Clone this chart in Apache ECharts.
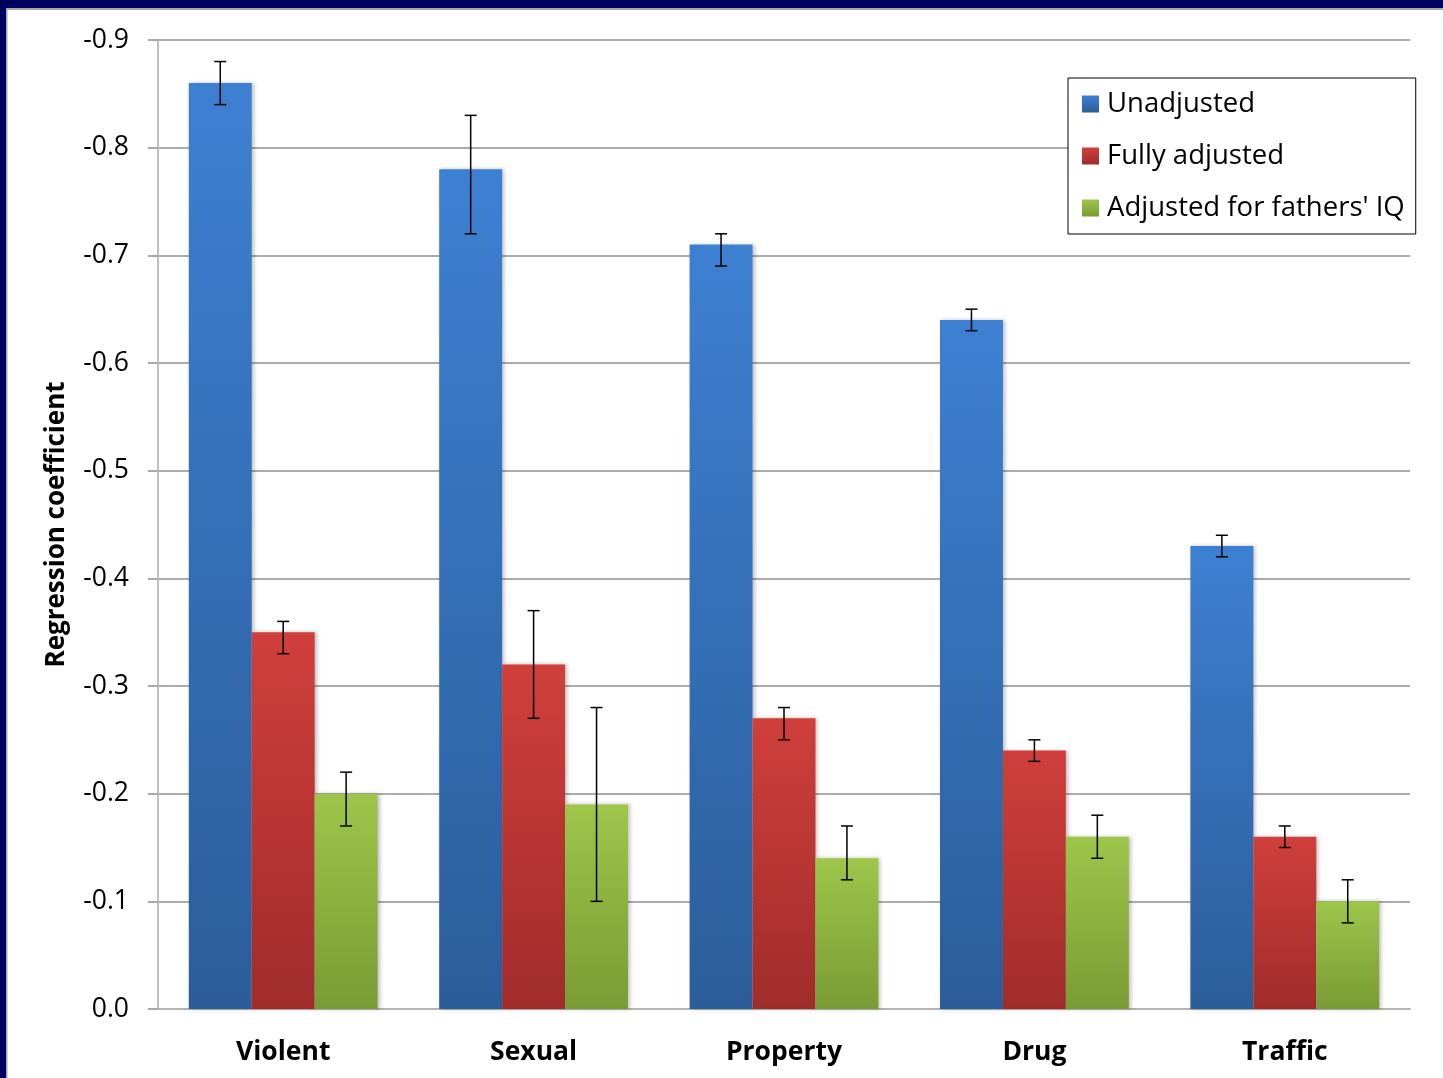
<!DOCTYPE html>
<html>
<head>
<meta charset="utf-8">
<script src="https://cdn.jsdelivr.net/npm/echarts@6/dist/echarts.min.js"></script>
<style>
html,body{margin:0;padding:0;background:#fff;}
#chart{width:1443px;height:1078px;}
</style>
</head>
<body>
<div id="chart"></div>
<script>
const categories = ['Violent', 'Sexual', 'Property', 'Drug', 'Traffic'];
const seriesNames = ['Unadjusted', 'Fully adjusted', "Adjusted for fathers' IQ"];
const unadjusted = [-0.86, -0.78, -0.71, -0.64, -0.43];
const unadjustedLow = [-0.84, -0.72, -0.69, -0.63, -0.42];
const unadjustedHigh = [-0.88, -0.83, -0.72, -0.65, -0.44];
const fullyAdjusted = [-0.35, -0.32, -0.27, -0.24, -0.16];
const fullyAdjustedLow = [-0.33, -0.27, -0.25, -0.23, -0.15];
const fullyAdjustedHigh = [-0.36, -0.37, -0.28, -0.25, -0.17];
const fathersIQ = [-0.20, -0.19, -0.14, -0.16, -0.10];
const fathersIQLow = [-0.17, -0.10, -0.12, -0.14, -0.08];
const fathersIQHigh = [-0.22, -0.28, -0.17, -0.18, -0.12];
const yTicks = [-0.9, -0.8, -0.7, -0.6, -0.5, -0.4, -0.3, -0.2, -0.1, 0.0];

const values = [unadjusted, fullyAdjusted, fathersIQ];
const lows = [unadjustedLow, fullyAdjustedLow, fathersIQLow];
const highs = [unadjustedHigh, fullyAdjustedHigh, fathersIQHigh];
const gradients = [
  ['#3D80D2', '#2C5D9A'],
  ['#D03F3B', '#A02C2A'],
  ['#9DC64A', '#799B34']
];
const CATGAP = 0.246;

const chart = echarts.init(document.getElementById('chart'));
const FONT = '"Open Sans", Lato, sans-serif';

const barSeries = values.map((vals, i) => ({
  name: seriesNames[i],
  type: 'bar',
  data: vals,
  barGap: '0%',
  barCategoryGap: (CATGAP * 100) + '%',
  itemStyle: {
    color: new echarts.graphic.LinearGradient(0, 0, 0, 1, [
      { offset: 0, color: gradients[i][0] },
      { offset: 1, color: gradients[i][1] }
    ]),
    shadowBlur: 4,
    shadowColor: 'rgba(0,0,0,0.25)',
    shadowOffsetX: 2,
    shadowOffsetY: 0
  },
  z: 2
}));

const errSeries = values.map((vals, i) => ({
  name: seriesNames[i] + ' err',
  type: 'custom',
  data: vals.map((v, j) => [j, lows[i][j], highs[i][j]]),
  renderItem: function (params, api) {
    const band = api.size([1, 0])[0];
    const bw = band * (1 - CATGAP) / 3;
    const offset = (i - 1) * bw;
    const p1 = api.coord([api.value(0), api.value(1)]);
    const p2 = api.coord([api.value(0), api.value(2)]);
    const x = p1[0] + offset;
    const cap = 6;
    const style = { stroke: '#000', lineWidth: 1.5 };
    return {
      type: 'group',
      children: [
        { type: 'line', shape: { x1: x, y1: p1[1], x2: x, y2: p2[1] }, style: style },
        { type: 'line', shape: { x1: x - cap, y1: p1[1], x2: x + cap, y2: p1[1] }, style: style },
        { type: 'line', shape: { x1: x - cap, y1: p2[1], x2: x + cap, y2: p2[1] }, style: style }
      ]
    };
  },
  z: 5,
  silent: true
}));

chart.setOption({
  backgroundColor: '#fff',
  animation: false,
  textStyle: { fontFamily: FONT },
  grid: { left: 158, top: 40, right: 33, bottom: 69, containLabel: false },
  legend: {
    data: seriesNames,
    orient: 'vertical',
    left: 1068,
    top: 78,
    icon: 'rect',
    itemWidth: 17,
    itemHeight: 17,
    itemGap: 22,
    padding: [11, 11, 11, 14],
    borderColor: '#000',
    borderWidth: 1,
    backgroundColor: '#fff',
    textStyle: { fontSize: 27.5, color: '#000', fontFamily: FONT, lineHeight: 30, padding: [0, 0, 0, 3] }
  },
  xAxis: {
    type: 'category',
    data: categories,
    axisLine: { show: true, lineStyle: { color: '#B4B4B4', width: 2 } },
    axisTick: { show: false },
    axisLabel: { fontSize: 26.5, fontWeight: 'bold', color: '#000', margin: 30, fontFamily: FONT }
  },
  yAxis: {
    type: 'value',
    inverse: true,
    min: -0.9,
    max: 0,
    interval: 0.1,
    name: 'Regression coefficient',
    nameLocation: 'middle',
    nameRotate: 90,
    nameGap: 88,
    nameTextStyle: { fontSize: 26, fontWeight: 'bold', color: '#000', fontFamily: FONT },
    axisLine: { show: true, lineStyle: { color: '#C0C0C0', width: 2 } },
    axisTick: { show: true, length: 10, lineStyle: { color: '#A8A8A8', width: 2 } },
    axisLabel: {
      fontSize: 26.5, color: '#000', margin: 29, fontFamily: FONT,
      formatter: function (v) {
        const t = yTicks.reduce((a, b) => Math.abs(b - v) < Math.abs(a - v) ? b : a);
        return t.toFixed(1);
      }
    },
    splitLine: { show: true, lineStyle: { color: '#ABABAB', width: 2 } }
  },
  graphic: [
    { type: 'rect', left: 0, top: 0, shape: { width: 1443, height: 8 }, style: { fill: '#00005E' }, z: 100 },
    { type: 'rect', left: 0, top: 8, shape: { width: 1443, height: 2 }, style: { fill: '#A8A8A8' }, z: 100 },
    { type: 'rect', left: 0, top: 0, shape: { width: 6, height: 1078 }, style: { fill: '#00005E' }, z: 101 },
    { type: 'rect', left: 6, top: 8, shape: { width: 1.5, height: 1070 }, style: { fill: '#A8A8A8' }, z: 101 }
  ],
  series: barSeries.concat(errSeries)
});
</script>
</body>
</html>
